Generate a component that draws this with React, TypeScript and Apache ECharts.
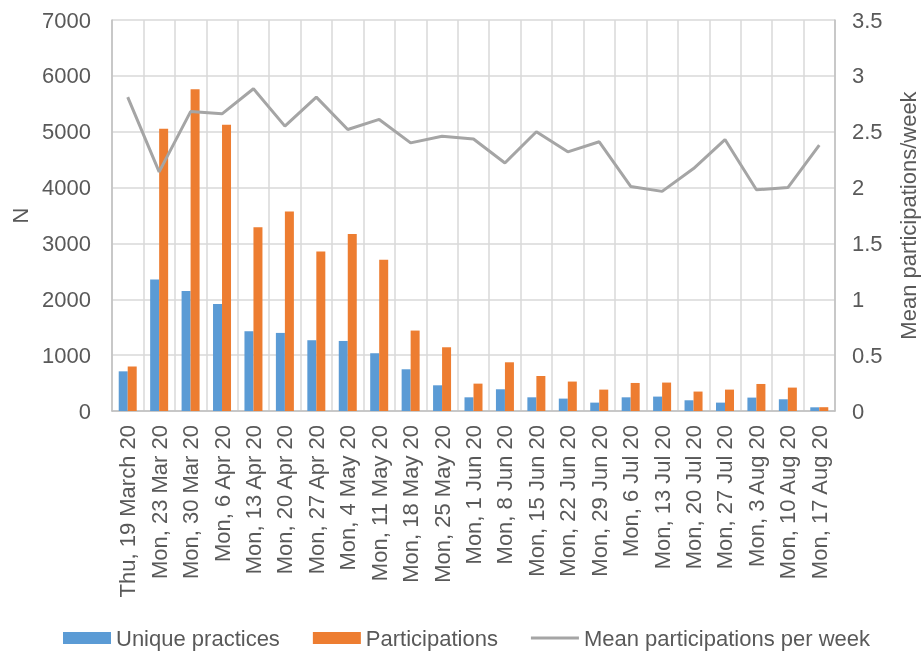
import React, { useEffect, useRef } from "react";
import * as echarts from "echarts";

const categories = [
  "Thu, 19 March 20", "Mon, 23 Mar 20", "Mon, 30 Mar 20", "Mon, 6 Apr 20", "Mon, 13 Apr 20",
  "Mon, 20 Apr 20", "Mon, 27 Apr 20", "Mon, 4 May 20", "Mon, 11 May 20", "Mon, 18 May 20",
  "Mon, 25 May 20", "Mon, 1 Jun 20", "Mon, 8 Jun 20", "Mon, 15 Jun 20", "Mon, 22 Jun 20",
  "Mon, 29 Jun 20", "Mon, 6 Jul 20", "Mon, 13 Jul 20", "Mon, 20 Jul 20", "Mon, 27 Jul 20",
  "Mon, 3 Aug 20", "Mon, 10 Aug 20", "Mon, 17 Aug 20",
];

const uniquePractices = [
  710, 2354, 2150, 1917, 1428, 1398, 1267, 1254, 1034, 747,
  460, 245, 389, 245, 222, 150, 245, 258, 192, 150, 240, 210, 66,
];

const participations = [
  795, 5053, 5758, 5124, 3291, 3572, 2856, 3171, 2706, 1440,
  1141, 490, 872, 627, 527, 383, 502, 509, 348, 383, 484, 419, 68,
];

const meanPerWeek = [
  2.81, 2.14, 2.68, 2.66, 2.885, 2.55, 2.81, 2.52, 2.61, 2.40,
  2.46, 2.435, 2.22, 2.50, 2.32, 2.41, 2.01, 1.966, 2.17, 2.43, 1.98, 2.00, 2.38,
];

const FONT = "Liberation Sans, Arial, sans-serif";
const TEXT = "#595959";

export default function App() {
  const ref = useRef<HTMLDivElement>(null);
  useEffect(() => {
    if (!ref.current) return;
    const chart = echarts.init(ref.current, undefined, { renderer: "svg" });
    chart.setOption({
      animation: false,
      textStyle: { fontFamily: FONT, color: TEXT },
      grid: {
        left: 112,
        right: 86,
        top: 20,
        bottom: 241,
        containLabel: false,
        outerBoundsMode: "none",
      },
      legend: {
        top: 622,
        left: 58,
        itemWidth: 48,
        itemHeight: 12,
        itemGap: 33,
        textStyle: { fontFamily: FONT, fontSize: 22, color: TEXT },
        data: [
          { name: "Unique practices", icon: "rect" },
          { name: "Participations", icon: "rect" },
          { name: "Mean participations per week", icon: "path://M0,0 H48 V3 H0 Z" },
        ],
      },
      xAxis: {
        type: "category",
        data: categories,
        axisLine: { lineStyle: { color: "#bfbfbf", width: 1.5 } },
        axisTick: { show: false },
        splitLine: { show: true, lineStyle: { color: "#d9d9d9", width: 1.5 } },
        axisLabel: {
          interval: 0,
          rotate: 90,
          margin: 14,
          fontSize: 22,
          color: TEXT,
          fontFamily: FONT,
        },
      },
      yAxis: [
        {
          type: "value",
          min: 0,
          max: 7000,
          interval: 1000,
          name: "N",
          nameLocation: "middle",
          nameGap: 80,
          nameTextStyle: { fontSize: 22, color: TEXT, fontFamily: FONT },
          axisLine: { show: true, lineStyle: { color: "#bfbfbf", width: 1.5 } },
          axisTick: { show: false },
          splitLine: { show: true, lineStyle: { color: "#d9d9d9", width: 1.5 } },
          axisLabel: {
            fontSize: 22,
            color: TEXT,
            margin: 21,
            fontFamily: FONT,
            formatter: (v: number) => String(v),
          },
        },
        {
          type: "value",
          min: 0,
          max: 3.5,
          interval: 0.5,
          name: "Mean participations/week",
          nameLocation: "middle",
          nameGap: 62,
          nameTextStyle: { fontSize: 22, color: TEXT, fontFamily: FONT },
          axisLine: { show: true, lineStyle: { color: "#bfbfbf", width: 1.5 } },
          axisTick: { show: false },
          splitLine: { show: false },
          axisLabel: {
            fontSize: 22,
            color: TEXT,
            margin: 17,
            fontFamily: FONT,
            formatter: (v: number) => String(v),
          },
        },
      ],
      series: [
        {
          name: "Unique practices",
          type: "bar",
          data: uniquePractices,
          barWidth: 9,
          barGap: "0%",
          itemStyle: { color: "#5B9BD5" },
        },
        {
          name: "Participations",
          type: "bar",
          data: participations,
          barWidth: 9,
          barGap: "0%",
          itemStyle: { color: "#ED7D31" },
        },
        {
          name: "Mean participations per week",
          type: "line",
          yAxisIndex: 1,
          data: meanPerWeek,
          symbol: "none",
          lineStyle: { color: "#A5A5A5", width: 3 },
          itemStyle: { color: "#A5A5A5" },
        },
      ],
    });
    return () => chart.dispose();
  }, []);
  return (
    <div
      ref={ref}
      style={{ position: "fixed", left: 0, top: 0, width: 921, height: 652 }}
    />
  );
}
